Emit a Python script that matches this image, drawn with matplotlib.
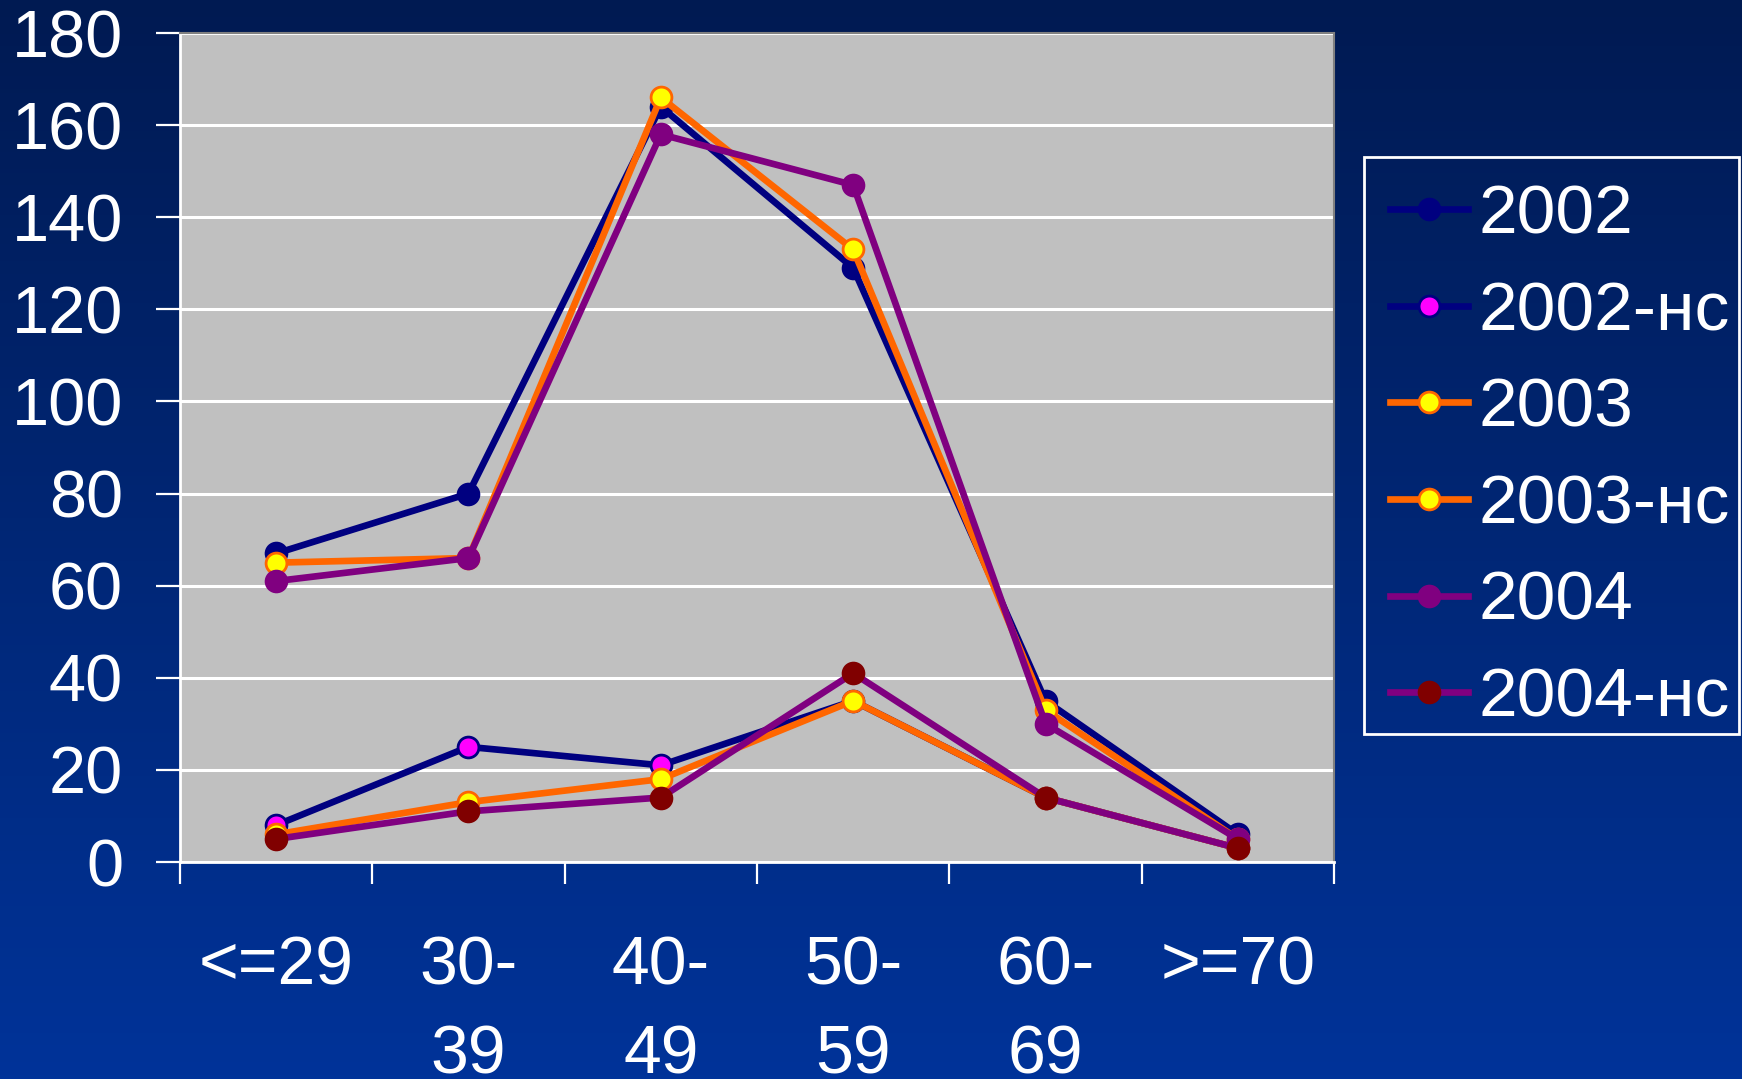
import numpy as np
import matplotlib
matplotlib.use("Agg")
import matplotlib.pyplot as plt
from matplotlib.colors import LinearSegmentedColormap
from matplotlib.patches import Rectangle

plt.rcParams['font.family'] = ['Liberation Sans', 'DejaVu Sans']

# Age groups and yearly counts
categories = ["<=29", "30-\n39", "40-\n49", "50-\n59", "60-\n69", ">=70"]
s2002 = [67, 80, 164, 129, 35, 6]
s2002_nc = [8, 25, 21, 35, 14, 3]
s2003 = [65, 66, 166, 133, 33, 5]
s2003_nc = [6, 13, 18, 35, 14, 3]
s2004 = [61, 66, 158, 147, 30, 5]
s2004_nc = [5, 11, 14, 41, 14, 3]
y_ticks = [0, 20, 40, 60, 80, 100, 120, 140, 160, 180]

NAVY = "#000080"
MAGENTA = "#FF00FF"
ORANGE = "#FF6600"
YELLOW = "#FFFF00"
PURPLE = "#800080"
MAROON = "#800000"

series = [
    ("2002", s2002, NAVY, NAVY, NAVY),
    ("2002-нс", s2002_nc, NAVY, MAGENTA, NAVY),
    ("2003", s2003, ORANGE, YELLOW, ORANGE),
    ("2003-нс", s2003_nc, ORANGE, YELLOW, ORANGE),
    ("2004", s2004, PURPLE, PURPLE, PURPLE),
    ("2004-нс", s2004_nc, PURPLE, MAROON, MAROON),
]

W, H = 1742, 1079
fig = plt.figure(figsize=(W / 100, H / 100), dpi=100)

# Vertical gradient background
bg = fig.add_axes([0, 0, 1, 1], zorder=-10)
cmap = LinearSegmentedColormap.from_list("bg", ["#001a52", "#003399"])
grad = np.linspace(0, 1, 256).reshape(-1, 1)
bg.imshow(grad, aspect="auto", cmap=cmap, extent=[0, 1, 0, 1], origin="upper")
bg.set_axis_off()

ax = fig.add_axes([0.1033, 0.2011, 0.7658 - 0.1033, 0.9694 - 0.2011])
ax.set_facecolor("#C0C0C0")

x = np.arange(len(categories)) + 0.5
for label, vals, lc, mfc, mec in series:
    ax.plot(x, vals, color=lc, lw=4.8, marker="o", ms=15,
            markerfacecolor=mfc, markeredgecolor=mec, markeredgewidth=2,
            label=label, zorder=3)

ax.set_xlim(0, len(categories))
ax.set_ylim(0, 180)
ax.set_yticks(y_ticks)
ax.yaxis.grid(True, color="white", lw=2.2, zorder=1)
ax.set_axisbelow(True)

# Category boundaries get tick marks; labels sit at category centres
ax.set_xticks(np.arange(len(categories) + 1))
ax.set_xticklabels([])
ax.set_xticks(x, minor=True)
ax.set_xticklabels(categories, minor=True, linespacing=1.5)
ax.tick_params(axis="x", which="major", length=16, width=1.6, color="white", direction="out")
ax.tick_params(axis="x", which="minor", length=0, pad=52, labelsize=49, labelcolor="white")
ax.tick_params(axis="y", length=17, width=1.6, color="white", direction="out",
               pad=24, labelsize=48, labelcolor="white")

for side in ("left", "bottom"):
    ax.spines[side].set_color("white")
    ax.spines[side].set_linewidth(2)
for side in ("top", "right"):
    ax.spines[side].set_color("#808080")
    ax.spines[side].set_linewidth(1.5)

# Legend entries, with a plain white frame drawn separately
leg = fig.legend(loc="upper left", bbox_to_anchor=(1364 / W, 1 - 157 / H),
                 borderaxespad=0, frameon=False, fontsize=50,
                 handlelength=1.12, handletextpad=0.15, labelspacing=0.47,
                 borderpad=0.38)
for t in leg.get_texts():
    t.set_color("white")
fig.patches.append(Rectangle((1364 / W, 1 - 734 / H), (1739 - 1364) / W, (734 - 157) / H,
                             transform=fig.transFigure, facecolor="none",
                             edgecolor="white", linewidth=2))

fig.savefig("out.png", dpi=100)
